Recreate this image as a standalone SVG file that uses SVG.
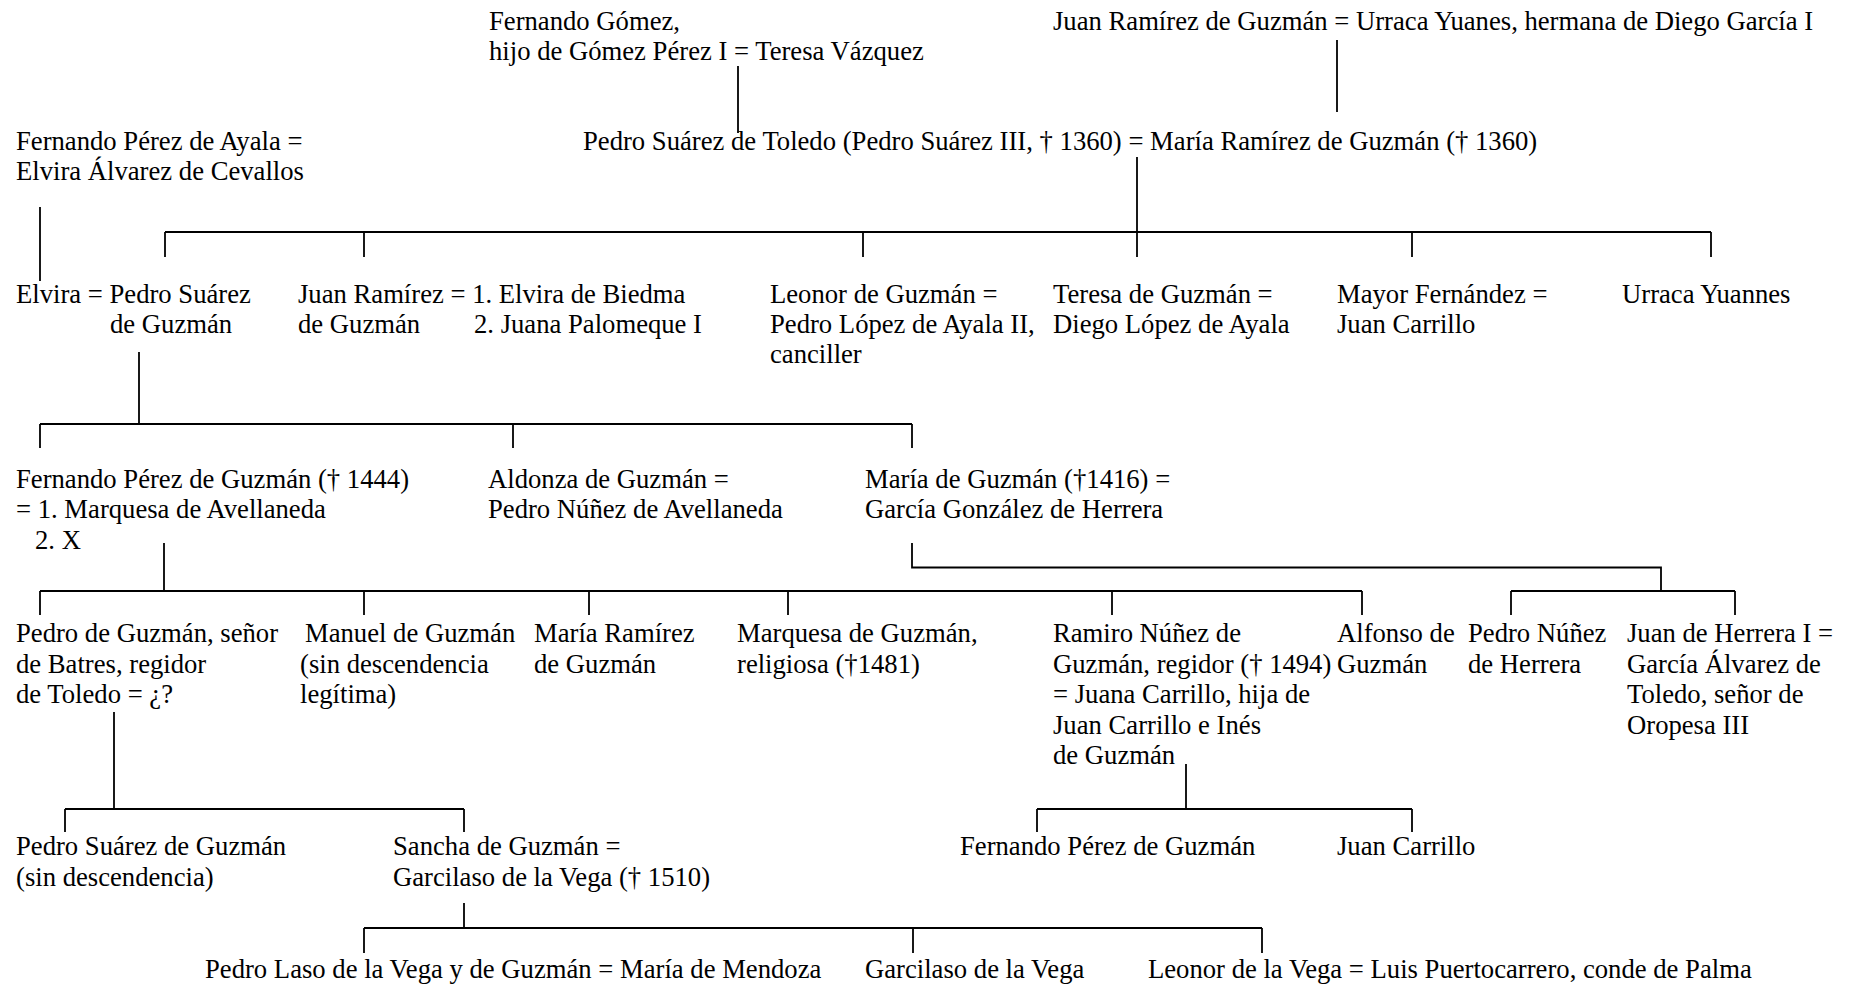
<svg xmlns="http://www.w3.org/2000/svg" width="1850" height="986" viewBox="0 0 1850 986">
<style>
text{font-family:"Liberation Serif","Times New Roman",serif;font-size:26.67px;fill:#000}
.c line,.c polyline{stroke:#000;stroke-width:1.8;fill:none}
</style>
<rect width="1850" height="986" fill="#fff"/>
<g class="c" id="connectors">
<line x1="738" y1="66" x2="738" y2="133"/>
<line x1="1337" y1="40" x2="1337" y2="112"/>
<line x1="40" y1="207" x2="40" y2="281"/>
<line x1="1137" y1="157" x2="1137" y2="257"/>
<line x1="165" y1="232" x2="1711" y2="232"/>
<line x1="165" y1="232" x2="165" y2="257"/>
<line x1="364" y1="232" x2="364" y2="257"/>
<line x1="863" y1="232" x2="863" y2="257"/>
<line x1="1412" y1="232" x2="1412" y2="257"/>
<line x1="1711" y1="232" x2="1711" y2="257"/>
<line x1="139" y1="352" x2="139" y2="424"/>
<line x1="40" y1="424" x2="912" y2="424"/>
<line x1="40" y1="424" x2="40" y2="448"/>
<line x1="513" y1="424" x2="513" y2="448"/>
<line x1="912" y1="424" x2="912" y2="448"/>
<line x1="164" y1="543" x2="164" y2="591"/>
<line x1="40" y1="591" x2="1362" y2="591"/>
<line x1="40" y1="591" x2="40" y2="615"/>
<line x1="364" y1="591" x2="364" y2="615"/>
<line x1="589" y1="591" x2="589" y2="615"/>
<line x1="788" y1="591" x2="788" y2="615"/>
<line x1="1112" y1="591" x2="1112" y2="615"/>
<line x1="1362" y1="591" x2="1362" y2="615"/>
<polyline points="912,543 912,567.5 1661,567.5 1661,591"/>
<line x1="1511" y1="591" x2="1735" y2="591"/>
<line x1="1511" y1="591" x2="1511" y2="615"/>
<line x1="1735" y1="591" x2="1735" y2="615"/>
<line x1="114" y1="712" x2="114" y2="809"/>
<line x1="65" y1="809" x2="464" y2="809"/>
<line x1="65" y1="809" x2="65" y2="832"/>
<line x1="464" y1="809" x2="464" y2="832"/>
<line x1="1186" y1="764" x2="1186" y2="809"/>
<line x1="1037" y1="809" x2="1412" y2="809"/>
<line x1="1037" y1="809" x2="1037" y2="832"/>
<line x1="1412" y1="809" x2="1412" y2="832"/>
<line x1="464" y1="903" x2="464" y2="928"/>
<line x1="364" y1="928" x2="1262" y2="928"/>
<line x1="364" y1="928" x2="364" y2="953"/>
<line x1="913" y1="928" x2="913" y2="953"/>
<line x1="1262" y1="928" x2="1262" y2="953"/>
</g>
<g id="fernando-gomez"><text x="489" y="29.5">Fernando Gómez,</text><text x="489" y="59.5">hijo de Gómez Pérez I = Teresa Vázquez</text></g>
<g id="juan-ramirez-urraca"><text x="1053" y="29.5">Juan Ramírez de Guzmán = Urraca Yuanes, hermana de Diego García I</text></g>
<g id="pedro-suarez-toledo"><text x="583" y="150">Pedro Suárez de Toledo (Pedro Suárez III, † 1360) = María Ramírez de Guzmán († 1360)</text></g>
<g id="fernando-ayala"><text x="16" y="150">Fernando Pérez de Ayala =</text><text x="16" y="180">Elvira Álvarez de Cevallos</text></g>
<g id="elvira-pedro"><text x="16" y="303">Elvira = Pedro Suárez</text><text x="110" y="333">de Guzmán</text></g>
<g id="juan-ramirez"><text x="298" y="303">Juan Ramírez = 1. Elvira de Biedma</text><text x="298" y="333">de Guzmán</text><text x="474" y="333">2. Juana Palomeque I</text></g>
<g id="leonor"><text x="770" y="303">Leonor de Guzmán =</text><text x="770" y="333">Pedro López de Ayala II,</text><text x="770" y="363">canciller</text></g>
<g id="teresa"><text x="1053" y="303">Teresa de Guzmán =</text><text x="1053" y="333">Diego López de Ayala</text></g>
<g id="mayor"><text x="1337" y="303">Mayor Fernández =</text><text x="1337" y="333">Juan Carrillo</text></g>
<g id="urraca-yuannes"><text x="1622" y="303">Urraca Yuannes</text></g>
<g id="fernando-perez-guzman"><text x="16" y="488">Fernando Pérez de Guzmán († 1444)</text><text x="16" y="518">= 1. Marquesa de Avellaneda</text><text x="35" y="549">2. X</text></g>
<g id="aldonza"><text x="488" y="488">Aldonza de Guzmán =</text><text x="488" y="518">Pedro Núñez de Avellaneda</text></g>
<g id="maria-guzman"><text x="865" y="488">María de Guzmán (†1416) =</text><text x="865" y="518">García González de Herrera</text></g>
<g id="pedro-guzman-batres"><text x="16" y="642">Pedro de Guzmán, señor</text><text x="16" y="672.5">de Batres, regidor</text><text x="16" y="703">de Toledo = ¿?</text></g>
<g id="manuel"><text x="305" y="642">Manuel de Guzmán</text><text x="300" y="672.5">(sin descendencia</text><text x="300" y="703">legítima)</text></g>
<g id="maria-ramirez"><text x="534" y="642">María Ramírez</text><text x="534" y="672.5">de Guzmán</text></g>
<g id="marquesa"><text x="737" y="642">Marquesa de Guzmán,</text><text x="737" y="672.5">religiosa (†1481)</text></g>
<g id="ramiro"><text x="1053" y="642">Ramiro Núñez de</text><text x="1053" y="672.5">Guzmán, regidor († 1494)</text><text x="1053" y="703">= Juana Carrillo, hija de</text><text x="1053" y="733.5">Juan Carrillo e Inés</text><text x="1053" y="764">de Guzmán</text></g>
<g id="alfonso"><text x="1337" y="642">Alfonso de</text><text x="1337" y="672.5">Guzmán</text></g>
<g id="pedro-nunez-herrera"><text x="1468" y="642">Pedro Núñez</text><text x="1468" y="672.5">de Herrera</text></g>
<g id="juan-herrera"><text x="1627" y="642">Juan de Herrera I =</text><text x="1627" y="672.5">García Álvarez de</text><text x="1627" y="703">Toledo, señor de</text><text x="1627" y="733.5">Oropesa III</text></g>
<g id="pedro-suarez-guzman"><text x="16" y="855">Pedro Suárez de Guzmán</text><text x="16" y="885.5">(sin descendencia)</text></g>
<g id="sancha"><text x="393" y="855">Sancha de Guzmán =</text><text x="393" y="885.5">Garcilaso de la Vega († 1510)</text></g>
<g id="fernando-perez-guzman-2"><text x="960" y="855">Fernando Pérez de Guzmán</text></g>
<g id="juan-carrillo"><text x="1337" y="855">Juan Carrillo</text></g>
<g id="pedro-laso"><text x="205" y="978">Pedro Laso de la Vega y de Guzmán = María de Mendoza</text></g>
<g id="garcilaso"><text x="865" y="978">Garcilaso de la Vega</text></g>
<g id="leonor-vega"><text x="1148" y="978">Leonor de la Vega = Luis Puertocarrero, conde de Palma</text></g>
</svg>
